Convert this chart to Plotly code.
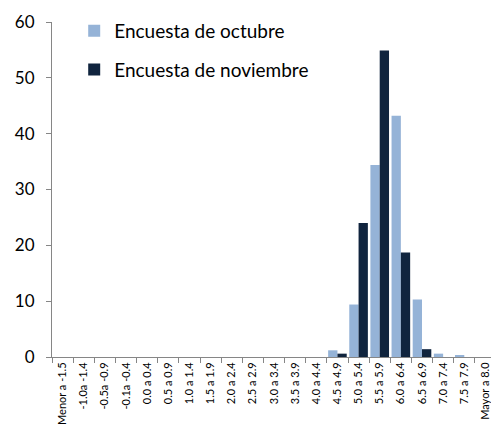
import plotly.graph_objects as go

categorias = ["Menor a -1.5", "-1.0a -1.4", "-0.5a -0.9", "-0.1a -0.4", "0.0 a 0.4",
              "0.5 a 0.9", "1.0 a 1.4", "1.5 a 1.9", "2.0 a 2.4", "2.5 a 2.9",
              "3.0 a 3.4", "3.5 a 3.9", "4.0 a 4.4", "4.5 a 4.9", "5.0 a 5.4",
              "5.5 a 5.9", "6.0 a 6.4", "6.5 a 6.9", "7.0 a 7.4", "7.5 a 7.9",
              "Mayor a 8.0"]
octubre = [0, 0, 0, 0, 0, 0, 0, 0, 0, 0, 0, 0, 0, 1.2, 9.4, 34.4, 43.2, 10.3, 0.6, 0.3, 0]
noviembre = [0, 0, 0, 0, 0, 0, 0, 0, 0, 0, 0, 0, 0, 0.6, 24.0, 54.9, 18.7, 1.4, 0, 0, 0]

font = "Lato, 'Open Sans', sans-serif"

fig = go.Figure()
fig.add_trace(go.Bar(x=categorias, y=octubre, name="Encuesta de octubre",
                     marker=dict(color="#95b3d7", line=dict(width=0)),
                     legendgroup="a"))
fig.add_trace(go.Bar(x=categorias, y=noviembre, name="Encuesta de noviembre",
                     marker=dict(color="#10243e", line=dict(width=0)),
                     legendgroup="b"))

# page body adds an 8px offset, so the figure is a bit smaller than the window
fig.update_layout(
    width=491, height=426,
    margin=dict(l=44, r=3, t=14, b=77),
    plot_bgcolor="white", paper_bgcolor="white",
    font=dict(family=font, color="black"),
    barmode="group", bargap=0.12, bargroupgap=0,
    legend=dict(x=0.05, y=1.03, xanchor="left", yanchor="top",
                font=dict(size=19, family=font), traceorder="grouped",
                tracegroupgap=11, bgcolor="rgba(0,0,0,0)",
                itemwidth=30),
    xaxis=dict(showgrid=False, showline=True, linecolor="#868686", linewidth=1,
               ticks="outside", tickson="boundaries", ticklen=5, tickcolor="#868686",
               tickangle=-90, tickfont=dict(size=11), automargin=False),
    yaxis=dict(range=[0, 60], dtick=10, showgrid=False, showline=True,
               linecolor="#868686", linewidth=1, ticks="outside", ticklen=5,
               tickcolor="#868686", tickfont=dict(size=17), automargin=False,
               ticklabelstandoff=8),
)

fig.write_html("out.html")
